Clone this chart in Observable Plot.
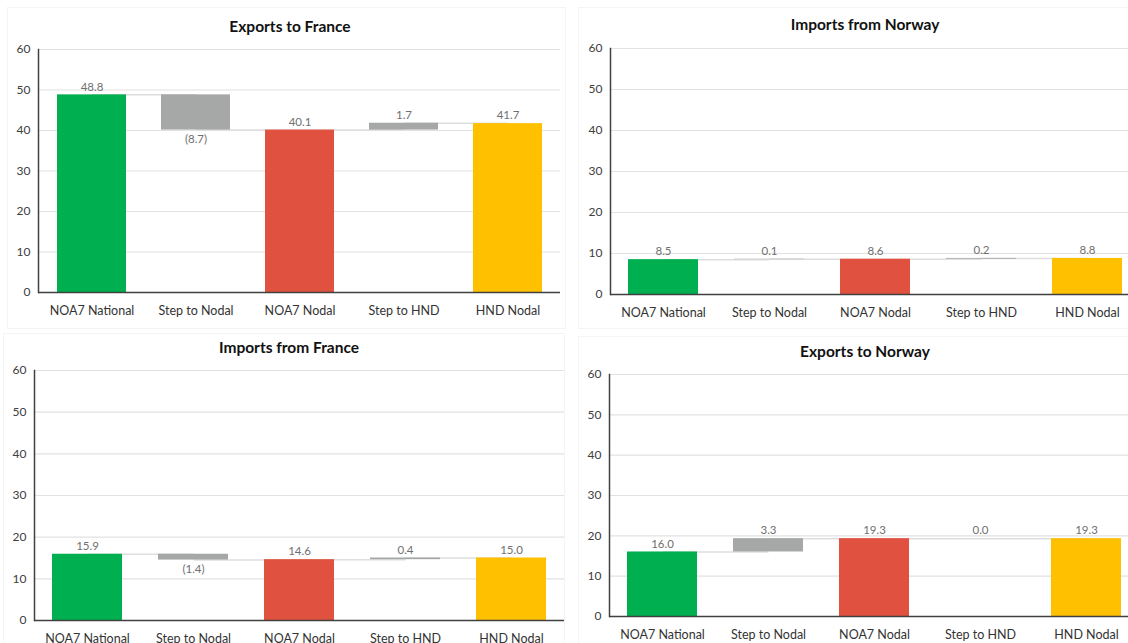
<!DOCTYPE html>
<html>
<head>
<meta charset="utf-8">
<script src="https://cdn.jsdelivr.net/npm/d3@7"></script>
<script src="https://cdn.jsdelivr.net/npm/@observablehq/plot@0.6"></script>
<style>
  html, body { margin: 0; padding: 0; background: #fff; overflow: hidden; }
  #root { position: relative; width: 1128px; height: 643px; overflow: hidden; font-family: Lato, "Open Sans", sans-serif; }
  .box { position: absolute; border: 1px solid #f4f4f4; box-sizing: border-box; }
  .title { position: absolute; transform: translate(-50%, -50%); font-weight: bold; font-size: 15.5px; color: #111; white-space: nowrap; }
  .panel { position: absolute; }
  .panel svg { overflow: visible; max-width: none !important; }
</style>
</head>
<body>
<div id="root"></div>
<script>
// ---- data ----
const categories = ["NOA7 National", "Step to Nodal", "NOA7 Nodal", "Step to HND", "HND Nodal"];
const kinds = ["total", "step", "total", "step", "total"];
const exportsToFrance = [48.8, -8.7, 40.1, 1.7, 41.7];
const importsFromNorway = [8.5, 0.1, 8.6, 0.2, 8.8];
const importsFromFrance = [15.9, -1.4, 14.6, 0.4, 15.0];
const exportsToNorway = [16.0, 3.3, 19.3, 0.0, 19.3];
const yTicks = [0, 10, 20, 30, 40, 50, 60];
const barColours = ["#00B050", "#A6A8A8", "#E0513F", "#A6A8A8", "#FFC000"];

// ---- layout (panel geometry) ----
const panels = [
  {title: "Exports to France", values: exportsToFrance, box: [7, 7, 559, 322], titleX: 290, titleY: 26, left: 0, x0: 38, x1: 560, y60: 49, y0: 292},
  {title: "Imports from Norway", values: importsFromNorway, box: [578, 7, 560, 322], titleX: 865, titleY: 24, left: 570, x0: 610, x1: 1140, y60: 48, y0: 294},
  {title: "Imports from France", values: importsFromFrance, box: [3, 333, 562, 320], titleX: 289, titleY: 347, left: 0, x0: 34, x1: 564, y60: 370, y0: 620},
  {title: "Exports to Norway", values: exportsToNorway, box: [578, 336, 560, 320], titleX: 865, titleY: 351, left: 570, x0: 609, x1: 1139, y60: 374, y0: 616}
];

function buildRows(values) {
  let level = 0;
  return values.map((v, i) => {
    let y1, y2;
    if (kinds[i] === "total") { y1 = 0; y2 = v; level = v; }
    else { y1 = level; y2 = level + v; level = y2; }
    return {
      cat: categories[i], v, y1, y2, end: level, colour: barColours[i],
      label: v < 0 ? `(${(-v).toFixed(1)})` : v.toFixed(1),
      ly: v < 0 ? Math.min(y1, y2) : Math.max(y1, y2)
    };
  });
}

const root = document.getElementById("root");

for (const p of panels) {
  const rows = buildRows(p.values);
  const links = rows.slice(0, -1).map((r, i) => ({from: r.cat, to: rows[i + 1].cat, y: r.end}));

  const box = document.createElement("div");
  box.className = "box";
  Object.assign(box.style, {left: p.box[0] + "px", top: p.box[1] + "px", width: p.box[2] + "px", height: p.box[3] + "px"});
  root.appendChild(box);

  const t = document.createElement("div");
  t.className = "title";
  t.textContent = p.title;
  Object.assign(t.style, {left: p.titleX + "px", top: p.titleY + "px"});
  root.appendChild(t);

  const top = p.y60 - 20;
  const width = p.x1 - p.left;
  const marginBottom = 30;
  const height = (p.y0 - top) + marginBottom;

  const chart = Plot.plot({
    width, height,
    marginLeft: p.x0 - p.left, marginRight: 0, marginTop: 20, marginBottom,
    style: {fontFamily: "Lato, 'Open Sans', sans-serif", background: "transparent", overflow: "visible", maxWidth: "none"},
    x: {domain: categories, paddingInner: 0.34, paddingOuter: 0.17, label: null},
    y: {domain: [0, 60], ticks: yTicks, label: null},
    color: {type: "identity"},
    marks: [
      Plot.gridY(yTicks, {stroke: "#e2e2e2", strokeOpacity: 1, strokeWidth: 1.2}),
      Plot.link(links, {x1: "from", x2: "to", y1: "y", y2: "y", stroke: "#dedede", strokeWidth: 1.5}),
      Plot.barY(rows, {x: "cat", y1: "y1", y2: "y2", fill: "colour"}),
      Plot.text(rows.filter(d => d.v >= 0), {x: "cat", y: "ly", text: "label", dy: -8, fill: "#707070", fontSize: 11.5}),
      Plot.text(rows.filter(d => d.v < 0), {x: "cat", y: "ly", text: "label", dy: 9, fill: "#707070", fontSize: 11.5}),
      Plot.axisY(yTicks, {tickSize: 0, tickPadding: 8, fontSize: 12, fill: "#404040", label: null}),
      Plot.axisX({tickSize: 0, tickPadding: 14, fontSize: 12.5, fill: "#333", label: null}),
      Plot.frame({anchor: "left", stroke: "#404040", strokeWidth: 1.5}),
      Plot.ruleY([0], {stroke: "#404040", strokeWidth: 1.5})
    ]
  });

  const holder = document.createElement("div");
  holder.className = "panel";
  Object.assign(holder.style, {left: p.left + "px", top: top + "px", width: width + "px", height: height + "px"});
  holder.appendChild(chart);
  root.appendChild(holder);
}
</script>
</body>
</html>
